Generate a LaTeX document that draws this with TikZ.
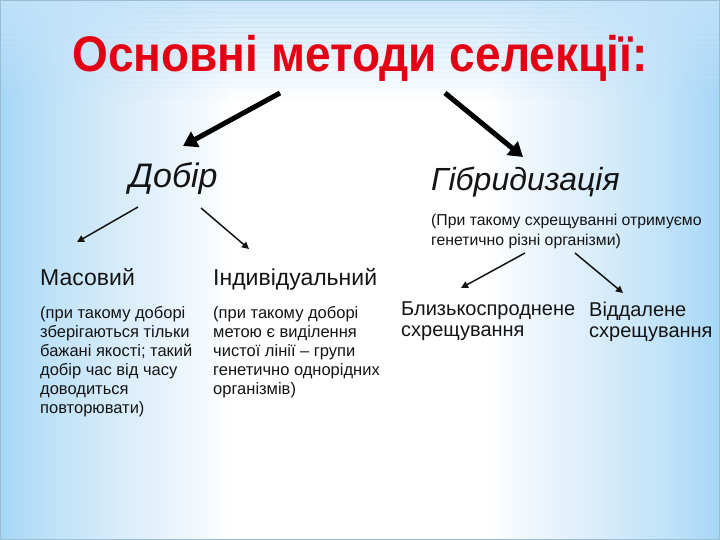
\documentclass[tikz,border=0pt]{standalone}
\usepackage{fontspec}
\setmainfont{Liberation Sans}
\usetikzlibrary{arrows.meta}
\definecolor{edgeblue}{RGB}{165,215,246}
\definecolor{topblue}{RGB}{195,226,249}
\definecolor{titlered}{RGB}{228,0,20}
\definecolor{txt}{RGB}{20,20,20}
\pgfdeclarehorizontalshading{bgshade}{100bp}{%
  rgb(0bp)=(0.647,0.843,0.965);
  rgb(25bp)=(0.647,0.843,0.965);
  rgb(29bp)=(0.76,0.89,0.972);
  rgb(35bp)=(0.88,0.94,0.985);
  rgb(39.5bp)=(0.96,0.98,0.995);
  rgb(41bp)=(1,1,1);
  rgb(59bp)=(1,1,1);
  rgb(60.5bp)=(0.96,0.98,0.995);
  rgb(65bp)=(0.88,0.94,0.985);
  rgb(71bp)=(0.76,0.89,0.972);
  rgb(75bp)=(0.647,0.843,0.965);
  rgb(100bp)=(0.647,0.843,0.965)}
\tikzset{
  bigarrow/.style={line width=5pt,-{Triangle[length=14pt,width=17pt]},black},
  smallarrow/.style={line width=1.5pt,-{Triangle[length=7pt,width=7pt]},txt},
  headtext/.style={font=\fontsize{32}{36}\selectfont\itshape,text=txt,inner sep=0pt,anchor=base west},
  midtext/.style={font=\fontsize{23}{24}\selectfont,text=txt,inner sep=0pt,anchor=base west},
  smalltext/.style={font=\fontsize{16.5}{19}\selectfont,text=txt,inner sep=0pt,anchor=north west,align=left},
  pairtext/.style={font=\fontsize{20}{21}\selectfont,text=txt,inner sep=0pt,anchor=north west,align=left},
}
\begin{document}
\begin{tikzpicture}[x=1pt,y=-1pt]
\useasboundingbox (0,0) rectangle (720,540);
\shade[shading=bgshade] (0,0) rectangle (720,540);
\foreach \i in {0,...,39}
  \fill[topblue,opacity={0.8*(1-\i/40)}] (0,{\i*2.5}) rectangle (720,{\i*2.5+2.6});
\draw[edgeblue!70!gray,line width=1.2pt] (0.6,0.6) rectangle (719.4,539.4);
% title
\node[font=\fontsize{50}{56}\selectfont\bfseries,text=titlered,inner sep=0pt,anchor=base] (title) at (360,72) {\scalebox{0.92}[1]{Основні методи селекції:}};
% level 1
\node[headtext,font=\fontsize{34}{36}\selectfont\itshape] (dobir) at (129,188) {Добір};
\node[headtext] (hybr) at (431,191) {Гібридизація};
\node[smalltext,font=\fontsize{15.8}{19.5}\selectfont] (hybrnote) at (431,214) {(При такому схрещуванні отримуємо\\генетично різні організми)};
% level 2
\node[midtext] (mas) at (40,285) {Масовий};
\node[midtext] (ind) at (213,285) {Індивідуальний};
\node[smalltext] (masnote) at (40,306) {(при такому доборі\\зберігаються тільки\\бажані якості; такий\\добір час від часу\\доводиться\\повторювати)};
\node[smalltext] (indnote) at (213,306) {(при такому доборі\\метою є виділення\\чистої лінії – групи\\генетично однорідних\\організмів)};
\node[pairtext] (close) at (401,302) {Близькоспроднене\\схрещування};
\node[pairtext] (far) at (589,302) {Віддалене\\схрещування};
% arrow coordinates
\coordinate (t1) at (280,93);
\coordinate (t2) at (445,93);
\coordinate (e1) at (183,146);
\coordinate (e2) at (523,157);
\coordinate (d1) at (138,207);
\coordinate (d2) at (201,208);
\coordinate (f1) at (77,242);
\coordinate (f2) at (249,249);
\coordinate (h1) at (525,253);
\coordinate (h2) at (575,253);
\coordinate (g1) at (461,288);
\coordinate (g2) at (623,293);
\draw[bigarrow] (t1) -- (e1);
\draw[bigarrow] (t2) -- (e2);
\draw[smallarrow] (d1) -- (f1);
\draw[smallarrow] (d2) -- (f2);
\draw[smallarrow] (h1) -- (g1);
\draw[smallarrow] (h2) -- (g2);
\end{tikzpicture}
\end{document}
